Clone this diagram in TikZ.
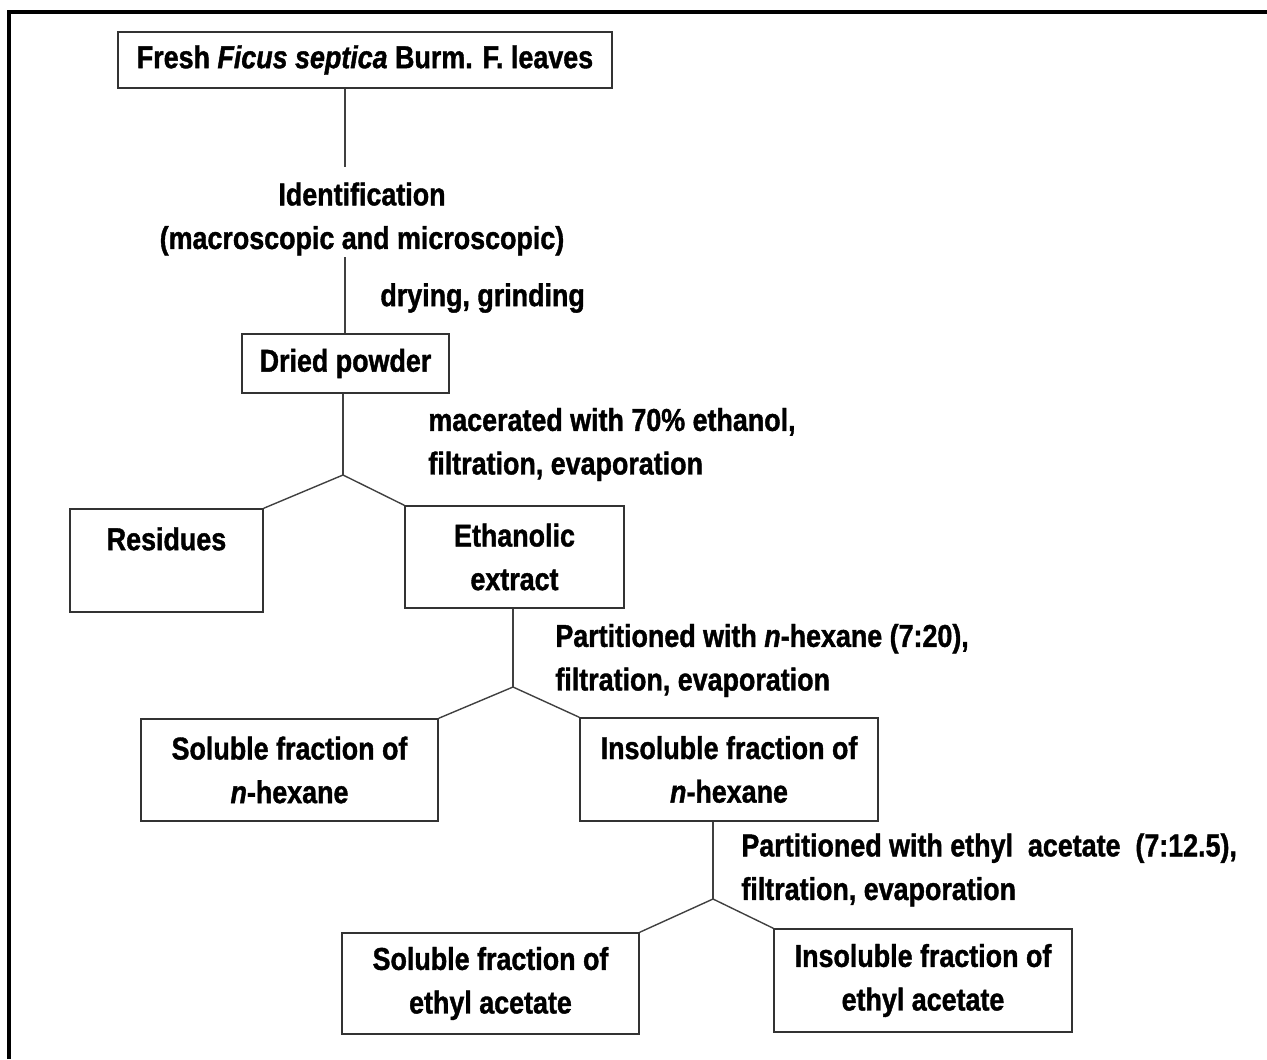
\documentclass[tikz,border=0pt]{standalone}
\usepackage{fontspec}
\setmainfont{Liberation Sans}[FakeStretch=0.85,
  BoldFeatures={FakeBold=1.2}, BoldItalicFeatures={FakeBold=1.2}]
\newcommand\dfont{\fontsize{15.8}{21.8}\selectfont\bfseries}
\begin{document}
\begin{tikzpicture}[x=0.5pt,y=-0.5pt,
  box/.style={draw=black!80, line width=0.75pt, align=center, inner sep=0pt, font=\dfont},
  lbl/.style={align=left, anchor=west, inner sep=0pt, font=\dfont},
  conn/.style={draw=black!75, line width=0.7pt}]
\useasboundingbox (0,0) rectangle (1267,1059);
% frame
\draw[line width=1.6pt] (9,1059) -- (9,12) -- (1267,12);
% boxes
\node[box, minimum width=247pt, minimum height=28pt] (top) at (365,60) {Fresh \textit{Ficus septica} Burm. F. leaves};
\node[box, minimum width=103.5pt, minimum height=29.5pt] (dried) at (345.5,363.5) {Dried powder};
\node[box, minimum width=96.5pt, minimum height=51.5pt] (residues) at (166.5,560.5) {Residues\\~};
\node[box, minimum width=109.5pt, minimum height=51pt] (ethanolic) at (514.5,557) {Ethanolic\\extract};
\node[box, minimum width=148.5pt, minimum height=51pt] (solhex) at (289.5,770) {Soluble fraction of\\\textit{n}-hexane};
\node[box, minimum width=149pt, minimum height=51.5pt] (inshex) at (729,769.5) {Insoluble fraction of\\\textit{n}-hexane};
\node[box, minimum width=148.5pt, minimum height=50.5pt] (solEA) at (490.5,983.5) {Soluble fraction of\\ethyl acetate};
\node[box, minimum width=149pt, minimum height=51.5pt] (insEA) at (923,980.5) {Insoluble fraction of\\ethyl acetate};
% labels
\node[lbl, anchor=center, align=center] (ident) at (362,219) {Identification\\(macroscopic and microscopic)};
\node[lbl] (dry) at (380,298) {drying, grinding};
\node[lbl] (mac) at (428,444.5) {macerated with 70\% ethanol,\\filtration, evaporation};
\node[lbl] (parthex) at (555,660.5) {Partitioned with \textit{n}-hexane (7:20),\\filtration, evaporation};
\node[lbl] (partea) at (741,870) {Partitioned with ethyl\ \ acetate\ \ (7:12.5),\\filtration, evaporation};
% connectors
\coordinate (i1) at (345,167);
\coordinate (i2) at (345,257);
\coordinate (b1) at (343,475);
\coordinate (b2) at (513,687);
\coordinate (b3) at (713,899);
\draw[conn] (i1 |- top.south) -- (i1);
\draw[conn] (i2) -- (i2 |- dried.north);
\draw[conn] (b1 |- dried.south) -- (b1);
\draw[conn] (residues.north east) -- (b1) -- (ethanolic.north west);
\draw[conn] (b2 |- ethanolic.south) -- (b2);
\draw[conn] (solhex.north east) -- (b2) -- (inshex.north west);
\draw[conn] (b3 |- inshex.south) -- (b3);
\draw[conn] (solEA.north east) -- (b3) -- (insEA.north west);
\end{tikzpicture}
\end{document}
